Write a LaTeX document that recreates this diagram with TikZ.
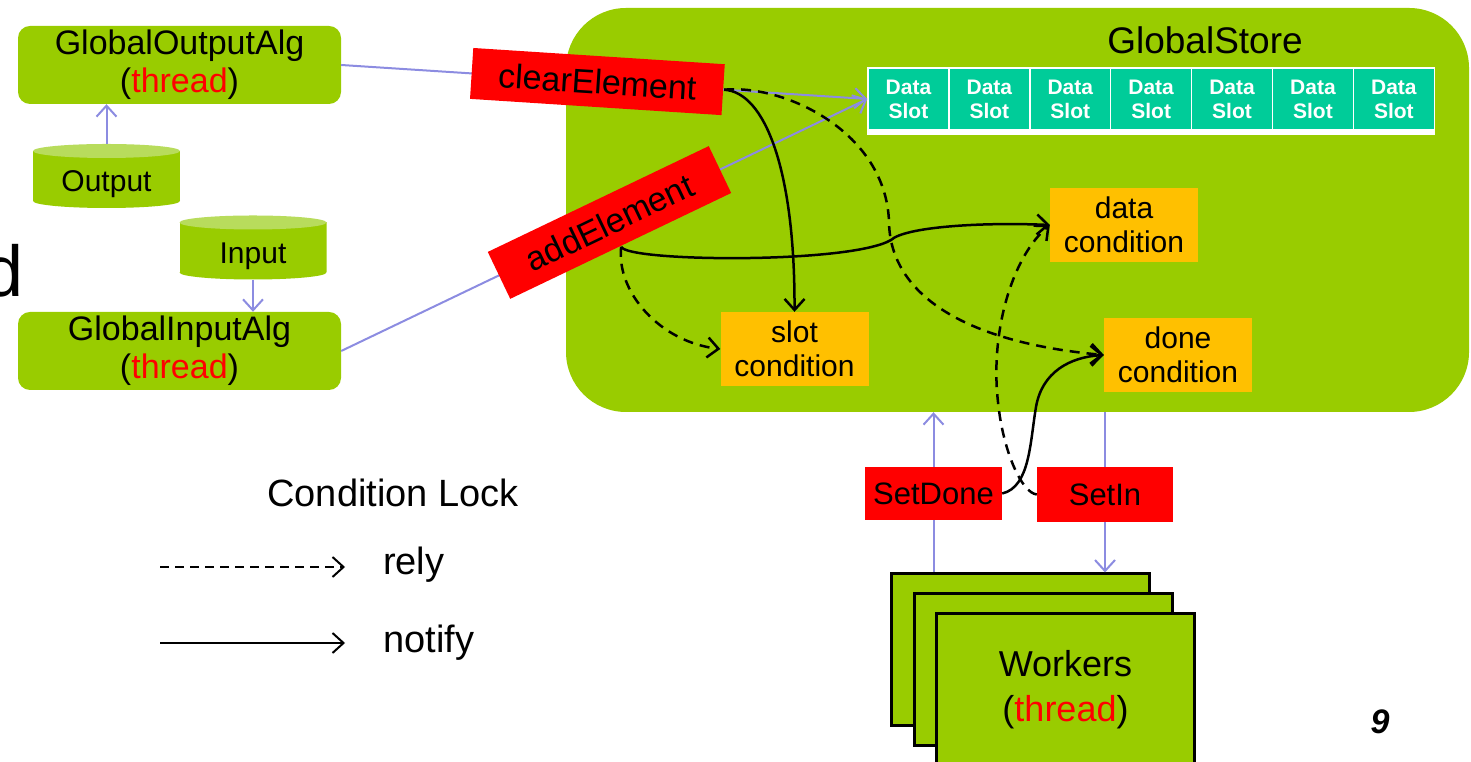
\documentclass[tikz,border=0pt]{standalone}
\usepackage{fontspec}
\setmainfont{Liberation Sans}
\usetikzlibrary{arrows.meta, positioning, calc}
\definecolor{colStore}{RGB}{153,204,0}
\definecolor{colStoreLt}{RGB}{184,220,92}
\definecolor{colFn}{RGB}{255,0,0}
\definecolor{colCond}{RGB}{255,192,0}
\definecolor{colSlot}{RGB}{0,204,153}
\definecolor{colLink}{RGB}{140,140,225}
\tikzset{
  algBox/.style={
    rectangle, rounded corners=12pt, fill=colStore,
    minimum width=323pt, minimum height=78pt, inner sep=0pt,
    align=center, font=\fontsize{34}{38}\selectfont
  },
  dbBox/.style={
    rectangle, fill=white, minimum width=147pt, minimum height=64pt, inner sep=0pt,
    text height=32pt, text depth=0pt, font=\fontsize{30}{32}\selectfont,
    path picture={
      \fill[colStore] ([yshift=7pt]path picture bounding box.south west)
        rectangle ([yshift=-7pt]path picture bounding box.north east);
      \fill[colStore] ([yshift=7pt]path picture bounding box.south) ellipse [x radius=73.5pt, y radius=7pt];
      \fill[colStoreLt] ([yshift=-7pt]path picture bounding box.north) ellipse [x radius=73.5pt, y radius=7pt];
    }
  },
  storeBox/.style={rectangle, rounded corners=60pt, fill=colStore, minimum width=903pt, minimum height=404pt},
  slotBox/.style={
    rectangle, fill=colSlot, draw=white, line width=1.5pt,
    minimum width=80.9pt, minimum height=62pt, inner sep=0pt,
    align=center, text=white, font=\fontsize{21}{24}\selectfont\bfseries
  },
  fnBox/.style={rectangle, fill=colFn, inner sep=0pt, font=\fontsize{34}{36}\selectfont},
  condBox/.style={
    rectangle, fill=colCond, minimum width=148pt, minimum height=74pt, inner sep=0pt,
    align=center, font=\fontsize{30}{34}\selectfont
  },
  card/.style={
    rectangle, fill=colStore, draw=black, line width=3pt,
    minimum width=258pt, minimum height=152pt, inner sep=0pt,
    align=center, font=\fontsize{36}{45}\selectfont
  },
  link/.style={draw=colLink, line width=2pt},
  linkArr/.style={link, -{Straight Barb[length=11pt, width=20pt]}},
  notifyArr/.style={draw=black, line width=2.5pt, -{Straight Barb[length=11pt, width=20pt]}},
  relyArr/.style={notifyArr, dash pattern=on 10pt off 7pt},
  legTxt/.style={font=\fontsize{38}{40}\selectfont, inner sep=0pt}
}
\newcommand{\thr}{(\textcolor{colFn}{thread})}

\begin{document}
\begin{tikzpicture}[x=1pt, y=1pt]
  \useasboundingbox (0,0) rectangle (1471,762);

  % store and its slots
  \node[storeBox] (store) at (1017.5,552) {};
  \node[font=\fontsize{37}{38}\selectfont] (storeTitle) at (1205,722) {GlobalStore};
  \foreach \i in {1,...,7}
    \node[slotBox] (s\i) at ({868+80.9*(\i-0.5)},663) {Data\\Slot};
  \draw[white, line width=4pt] ([yshift=-2pt]s1.south west) -- ([yshift=-2pt]s7.south east);

  % input / output side
  \node[algBox] (outAlg) at (179.5,697) {GlobalOutputAlg\\\thr};
  \node[algBox] (inAlg) at (179.5,411) {GlobalInputAlg\\\thr};
  \node[dbBox] (outDb) at (106.5,586) {Output};
  \node[dbBox] (inDb) at (253,514.5) {Input};
  \node[anchor=base east, inner sep=0pt, font=\fontsize{72}{72}\selectfont] (cut) at (24,465) {d};

  \draw[linkArr] (outDb.north) -- (outAlg.south -| outDb.north);
  \draw[linkArr] (inDb.south) -- (inAlg.north -| inDb.south);

  \draw[linkArr] (outAlg.east) -- node[fnBox, sloped, pos=0.487, minimum width=252pt, minimum height=51pt] (clr) {clearElement} (s1.west);
  \draw[linkArr] (inAlg.east) -- node[fnBox, sloped, pos=0.51, minimum width=245pt, minimum height=52pt] (add) {addElement} (s1.west);

  % conditions
  \node[condBox] (dataCond) at (1124,537) {data\\condition};
  \node[condBox] (slotCond) at (794.5,413) {slot\\condition};
  \node[condBox] (doneCond) at (1178,407) {done\\condition};

  % worker side
  \node[fnBox, minimum width=137pt, minimum height=53pt, font=\fontsize{31}{33}\selectfont] (setDone) at (933.5,268.5) {SetDone};
  \node[fnBox, minimum width=136pt, minimum height=55pt, font=\fontsize{31}{33}\selectfont] (setIn) at (1105,267.5) {SetIn};
  \node[card] (w1) at (1020.5,112) {};
  \node[card] (w2) at ([shift={(22.5,-20)}]w1.center) {};
  \node[card] (w3) at ([shift={(22.5,-20)}]w2.center) {Workers\\\thr};

  \draw[linkArr] (setDone.north) -- (setDone.north |- store.south);
  \draw[link] (setDone.south) -- (setDone.south |- w1.north);
  \draw[link] (setIn.north |- store.south) -- (setIn.north);
  \draw[linkArr] (setIn.south) -- (setIn.south |- w1.north);

  % condition lock curves
  \draw[notifyArr] (clr.east) .. controls (765,670) and (795,592) .. (slotCond.north);
  \draw[relyArr] (clr.east) .. controls (785,678) and (886,630) .. (889,540)
    .. controls (890,470) and (960,420) .. (doneCond.west);
  \draw[notifyArr] (add.south) .. controls (628,500) and (850,498) .. (891,522)
    .. controls (905,535) and (980,540) .. (dataCond.west);
  \draw[relyArr] (add.south) .. controls (616,470) and (660,420) .. (slotCond.west);
  \draw[relyArr] (setIn.west) .. controls (1022,269) and (1003,310) .. (998,360)
    .. controls (990,430) and (1012,505) .. (dataCond.west);
  \draw[notifyArr] (setDone.east) .. controls (1030,275) and (1030,320) .. (1036,355)
    .. controls (1042,390) and (1070,405) .. (doneCond.west);

  % legend
  \node[legTxt, anchor=base] (lockTitle) at (393,255) {Condition Lock};
  \node[legTxt, anchor=base west] (relyTxt) at (383,187) {rely};
  \node[legTxt, anchor=base west] (notifyTxt) at (383,109) {notify};
  \coordinate (relyA) at (160,195);
  \coordinate (notifyA) at (160,119);
  \draw[notifyArr, line width=2pt, dash pattern=on 9pt off 6pt] (relyA) -- ([xshift=-38pt]relyTxt.west |- relyA);
  \draw[notifyArr, line width=2pt] (notifyA) -- ([xshift=-38pt]notifyTxt.west |- notifyA);

  \node[font=\fontsize{34}{34}\selectfont\bfseries\itshape] (pg) at (1380,40) {9};
\end{tikzpicture}
\end{document}
